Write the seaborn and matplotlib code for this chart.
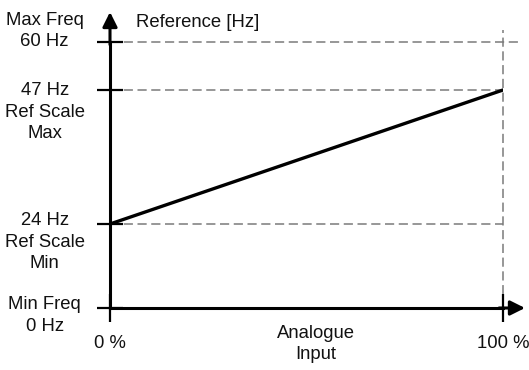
import numpy as np
import seaborn as sns
import matplotlib.pyplot as plt

# frequency levels on the reference axis (Hz) and their names
freq_levels = [0, 24, 47, 60]
level_labels = ['Min Freq\n0 Hz', '24 Hz\nRef Scale\nMin', '47 Hz\nRef Scale\nMax', 'Max Freq\n60 Hz']

# reference curve: analogue input (%) -> reference (Hz)
input_pct = [0, 100]
reference_hz = [24, 47]
x_tick_labels = ['0 %', '100 %']


def schematic_scale():
    # the drawing is not to scale, so stretch the y axis piecewise
    hz = [-60, 0, 24, 47, 60, 120]
    pos = [-266, 0, 84, 218, 266, 532]
    fwd = lambda v: np.interp(v, hz, pos)
    inv = lambda v: np.interp(v, pos, hz)
    return fwd, inv


def main():
    sns.set_style('white')
    plt.rcParams['font.family'] = ['Liberation Sans', 'DejaVu Sans']
    plt.rcParams['xtick.bottom'] = True
    plt.rcParams['ytick.left'] = True
    plt.rcParams['axes.axisbelow'] = False
    text_color = '#111111'
    dash_color = '#7a7a7a'
    fs = 13.3

    fig = plt.figure(figsize=(5.29, 3.70), dpi=100)
    ax = fig.add_axes([110 / 529, 62 / 370, 393 / 529, 266 / 370])
    ax.set_yscale('function', functions=schematic_scale())

    # guide lines
    for level in freq_levels[1:]:
        xmax = 1.043 if level == max(freq_levels) else 1.0
        ax.axhline(level, xmin=0, xmax=xmax, color=dash_color, lw=1.1,
                   ls=(0, (6, 3)), clip_on=False, zorder=1)
    ax.axvline(input_pct[-1], ymin=0, ymax=1.045, color=dash_color, lw=1.1,
               ls=(0, (6, 3)), clip_on=False, zorder=1)

    sns.lineplot(x=input_pct, y=reference_hz, color='black', lw=2.4, ax=ax, zorder=3)

    ax.set_xlim(0, 100)
    ax.set_ylim(0, 60)

    for side in ['top', 'right']:
        ax.spines[side].set_visible(False)
    for side in ['left', 'bottom']:
        ax.spines[side].set_linewidth(2.2)
        ax.spines[side].set_color('black')

    ax.set_yticks(freq_levels)
    ax.set_yticklabels([])
    ax.set_xticks(input_pct)
    ax.set_xticklabels(x_tick_labels, fontsize=fs, color=text_color)
    ax.xaxis.set_tick_params(which='major', bottom=True, direction='inout', length=20,
                             width=1.6, color='black', pad=9.5)
    ax.yaxis.set_tick_params(which='major', left=True, direction='inout', length=19,
                             width=1.6, color='black')
    ax.set_xlabel('')
    ax.set_ylabel('')

    # arrow heads
    arrow = dict(arrowstyle='-|>', lw=2.2, color='black', mutation_scale=22,
                 shrinkA=0, shrinkB=0)
    ax.annotate('', xy=(0, 1 + 30 / 266), xytext=(0, 0.99), xycoords='axes fraction',
                arrowprops=arrow, annotation_clip=False)
    ax.annotate('', xy=(1 + 22 / 393, 0), xytext=(0.99, 0), xycoords='axes fraction',
                arrowprops=arrow, annotation_clip=False)

    # level labels on the left
    offsets = [-5.5, -13, -16, 8]
    for level, label, dy in zip(freq_levels, level_labels, offsets):
        ax.annotate(label, xy=(0, level), xytext=(-47, dy), textcoords='offset points',
                    ha='center', va='center', fontsize=fs, color=text_color,
                    linespacing=1.35, annotation_clip=False)

    ax.annotate('Reference [Hz]', xy=(0, 1), xycoords='axes fraction',
                xytext=(19, 14), textcoords='offset points', ha='left', va='center',
                fontsize=fs, color=text_color)
    ax.annotate('Analogue\nInput', xy=(52.4, 0), xytext=(0, -26), textcoords='offset points',
                ha='center', va='center', fontsize=fs, color=text_color,
                linespacing=1.25, annotation_clip=False)

    fig.savefig('out.png', dpi=100)


if __name__ == '__main__':
    main()
